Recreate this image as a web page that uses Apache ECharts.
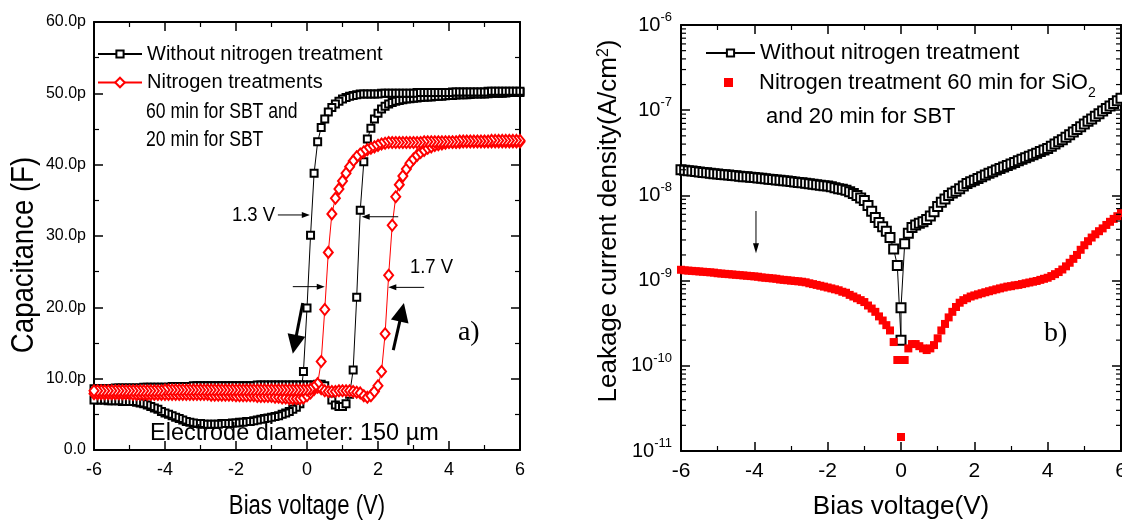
<!DOCTYPE html>
<html>
<head>
<meta charset="utf-8">
<script src="https://cdn.jsdelivr.net/npm/echarts@6/dist/echarts.min.js"></script>
<style>html,body{margin:0;padding:0;background:#fff}#chart{width:1122px;height:521px}</style>
</head>
<body>
<div id="chart"></div>
<script>
// ---------------- DATA ----------------
// Bias voltage sampling (V)
const VOLTS = [
 -6.0,-5.9,-5.8,-5.7,-5.6,-5.5,-5.4,-5.3,-5.2,-5.1,
 -5.0,-4.9,-4.8,-4.7,-4.6,-4.5,-4.4,-4.3,-4.2,-4.1,
 -4.0,-3.9,-3.8,-3.7,-3.6,-3.5,-3.4,-3.3,-3.2,-3.1,
 -3.0,-2.9,-2.8,-2.7,-2.6,-2.5,-2.4,-2.3,-2.2,-2.1,
 -2.0,-1.9,-1.8,-1.7,-1.6,-1.5,-1.4,-1.3,-1.2,-1.1,
 -1.0,-0.9,-0.8,-0.7,-0.6,-0.5,-0.4,-0.3,-0.2,-0.1,
 0.0,0.1,0.2,0.3,0.4,0.5,0.6,0.7,0.8,0.9,
 1.0,1.1,1.2,1.3,1.4,1.5,1.6,1.7,1.8,1.9,
 2.0,2.1,2.2,2.3,2.4,2.5,2.6,2.7,2.8,2.9,
 3.0,3.1,3.2,3.3,3.4,3.5,3.6,3.7,3.8,3.9,
 4.0,4.1,4.2,4.3,4.4,4.5,4.6,4.7,4.8,4.9,
 5.0,5.1,5.2,5.3,5.4,5.5,5.6,5.7,5.8,5.9,6.0
];

// (a) Capacitance in pF, listed for ascending VOLTS
const CAP_NO_N2_UP = [
 8.6,8.6,8.6,8.6,8.6,8.6,8.7,8.7,8.7,8.7,
 8.7,8.7,8.7,8.7,8.8,8.8,8.8,8.8,8.8,8.8,
 8.8,8.8,8.9,8.9,8.9,8.9,8.9,8.9,9.0,9.0,
 9.0,9.0,9.0,9.0,9.0,9.0,9.0,9.0,9.0,9.0,
 9.0,9.0,9.0,9.0,9.0,9.0,9.1,9.1,9.1,9.1,
 9.1,9.1,9.1,9.1,9.1,9.1,9.1,9.1,9.1,9.1,
 9.1,9.1,9.1,9.2,9.2,9.0,8.2,7.0,6.3,6.1,
 6.1,6.5,7.8,11.2,21.4,33.6,40.4,43.6,45.1,46.4,
 47.2,47.8,48.2,48.5,48.7,48.9,49.0,49.1,49.2,49.25,
 49.3,49.35,49.4,49.45,49.5,49.5,49.55,49.6,49.6,49.65,
 49.7,49.7,49.75,49.8,49.8,49.8,49.85,49.9,49.9,49.9,
 49.9,49.95,50.0,50.0,50.0,50.0,50.05,50.1,50.1,50.1,50.1
];
const CAP_NO_N2_DOWN = [
 7.0,7.0,7.0,7.0,6.9,6.9,6.9,6.9,6.8,6.8,
 6.8,6.8,6.7,6.6,6.5,6.3,6.1,5.9,5.7,5.4,
 5.2,5.0,4.8,4.6,4.4,4.2,4.0,3.9,3.8,3.7,
 3.7,3.6,3.6,3.6,3.6,3.6,3.7,3.7,3.7,3.8,
 3.8,3.9,3.9,4.0,4.0,4.1,4.2,4.3,4.4,4.5,
 4.6,4.7,4.8,5.0,5.2,5.4,5.7,6.0,6.5,11.0,
 19.9,30.1,38.8,43.2,45.2,46.4,47.4,48.0,48.5,48.9,
 49.2,49.4,49.6,49.7,49.8,49.9,49.9,49.9,49.9,49.9,
 49.9,50.0,50.0,50.0,50.0,50.0,50.0,50.0,50.0,50.0,
 50.0,50.1,50.1,50.1,50.1,50.1,50.1,50.1,50.1,50.1,
 50.1,50.2,50.2,50.2,50.2,50.2,50.2,50.2,50.2,50.2,
 50.2,50.3,50.3,50.3,50.3,50.3,50.3,50.3,50.3,50.3,50.3
];
const CAP_N2_UP = [
 7.9,7.9,7.9,7.9,7.9,7.9,7.9,7.9,7.9,7.9,
 7.9,7.8,7.8,7.8,7.8,7.8,7.8,7.8,7.8,7.8,
 7.8,7.8,7.8,7.8,7.8,7.8,7.8,7.8,7.8,7.8,
 7.8,7.8,7.8,7.7,7.7,7.7,7.7,7.7,7.7,7.7,
 7.6,7.6,7.6,7.6,7.6,7.6,7.5,7.5,7.5,7.5,
 7.5,7.4,7.4,7.3,7.3,7.2,7.2,7.2,7.2,7.3,
 7.6,8.0,8.5,8.8,8.6,8.3,8.2,8.2,8.2,8.3,
 8.3,8.3,8.3,8.2,8.1,8.0,7.6,7.4,7.6,8.2,
 9.0,11.0,16.3,24.5,31.5,35.5,37.2,38.4,39.4,40.2,
 40.8,41.3,41.7,42.0,42.3,42.5,42.7,42.8,42.9,43.0,
 43.1,43.1,43.1,43.1,43.2,43.2,43.2,43.2,43.2,43.2,
 43.2,43.2,43.2,43.2,43.2,43.2,43.2,43.2,43.2,43.2,43.2
];
const CAP_N2_DOWN = [
 8.3,8.3,8.3,8.3,8.3,8.3,8.3,8.3,8.3,8.3,
 8.3,8.3,8.3,8.3,8.3,8.3,8.3,8.3,8.3,8.3,
 8.4,8.4,8.4,8.4,8.4,8.4,8.4,8.4,8.4,8.4,
 8.4,8.4,8.4,8.4,8.4,8.4,8.4,8.4,8.4,8.4,
 8.4,8.4,8.4,8.4,8.4,8.4,8.4,8.4,8.4,8.4,
 8.4,8.4,8.4,8.4,8.4,8.4,8.4,8.4,8.4,8.4,
 8.4,8.5,8.8,9.3,12.4,19.7,27.7,33.1,35.3,36.6,
 37.7,38.8,39.7,40.5,41.1,41.5,41.8,42.1,42.3,42.5,
 42.7,42.9,43.0,43.1,43.1,43.1,43.1,43.1,43.1,43.1,
 43.1,43.1,43.1,43.2,43.2,43.2,43.2,43.2,43.2,43.2,
 43.2,43.2,43.2,43.3,43.3,43.3,43.3,43.3,43.3,43.3,
 43.3,43.3,43.4,43.4,43.4,43.4,43.4,43.4,43.4,43.4,43.4
];

// (b) Leakage current density in nA/cm^2 (x 1e-9 A/cm^2)
const NANO = 1e-9;
const J_NO_N2_NEG = [ // VOLTS -6.0 .. 0.0
 20.0,19.7,19.5,19.3,19.1,18.8,18.6,18.4,18.2,18.0,
 17.8,17.6,17.5,17.3,17.1,17.0,16.8,16.6,16.5,16.3,
 16.2,16.0,15.9,15.7,15.5,15.4,15.2,15.1,14.9,14.8,
 14.6,14.4,14.2,14.1,13.9,13.7,13.5,13.3,13.2,13.0,
 12.9,12.6,12.3,12.0,11.8,11.5,11.0,10.5,10.0,9.3,
 8.7,7.6,6.5,5.5,4.8,4.3,3.8,3.2,2.35,1.5,0.2
];
const J_NO_N2_POS = [ // VOLTS 0.0 .. 6.0
 0.48,2.7,3.6,4.2,4.5,4.7,4.9,5.2,5.75,6.45,
 7.4,8.3,9.1,10.0,10.7,11.2,12.0,12.9,13.8,14.5,
 15.1,15.8,16.6,17.4,18.2,19.0,19.8,20.7,21.5,22.5,
 23.4,24.4,25.5,26.5,27.7,28.8,30.1,31.3,32.7,34.0,
 35.5,37.7,40.0,42.5,45.0,48.0,51.5,55.5,59.5,64.0,
 69,74,79,85,91,98,105,112,120,129,138
];
const J_N2 = [ // VOLTS -6.0 .. 6.0
 1.34,1.32,1.31,1.30,1.29,1.28,1.27,1.26,1.25,1.24,
 1.22,1.21,1.20,1.19,1.18,1.17,1.16,1.15,1.14,1.13,
 1.12,1.11,1.09,1.08,1.07,1.06,1.05,1.03,1.02,1.01,
 1.00,0.99,0.98,0.97,0.955,0.93,0.91,0.89,0.87,0.85,
 0.83,0.81,0.79,0.77,0.74,0.72,0.68,0.65,0.62,0.59,
 0.56,0.51,0.47,0.43,0.38,0.34,0.30,0.26,0.19,0.117,
 0.0146,0.117,0.16,0.18,0.18,0.17,0.16,0.153,0.16,0.175,
 0.21,0.26,0.31,0.37,0.43,0.49,0.55,0.59,0.62,0.65,
 0.67,0.69,0.71,0.73,0.75,0.77,0.79,0.81,0.83,0.85,
 0.86,0.88,0.89,0.91,0.93,0.95,0.97,0.99,1.02,1.05,
 1.08,1.13,1.19,1.26,1.35,1.47,1.62,1.8,2.0,2.3,
 2.6,2.9,3.2,3.5,3.8,4.1,4.5,4.9,5.3,5.7,6.2
];

// axis ranges / names
const X_TICKS = { min: -6, max: 6, step: 2 };
const CAP_TICKS = { min: 0, max: 60, step: 10 };
const LEAK_DECADES = { min: -11, max: -6 };
const NAME_A_BLACK = 'Without nitrogen treatment';
const NAME_A_RED = 'Nitrogen treatments';
const NAME_B_BLACK = 'Without nitrogen treatment ';
const NAME_B_RED = 'Nitrogen treatment 60 min for SiO2';

// ---------------- BUILD ----------------
const SANS = "'Liberation Sans',Arial,Helvetica,sans-serif";
const SERIF = "'Liberation Serif','Times New Roman',serif";

const loop = (up, down) => up.map((c, i) => [VOLTS[i], c])
  .concat(down.map((c, i) => [VOLTS[i], c]).reverse());
const leakBlack = J_NO_N2_NEG.map((j, i) => [VOLTS[i], j * NANO])
  .concat(J_NO_N2_POS.map((j, i) => [VOLTS[60 + i], j * NANO]));
const leakRed = J_N2.map((j, i) => [VOLTS[i], j * NANO]);

// minor tick values of the log axis (2..9 x 10^n)
const LOG_MINOR = [];
for (let e = LEAK_DECADES.min; e < LEAK_DECADES.max; e++)
  for (let k = 2; k <= 9; k++) LOG_MINOR.push(k * Math.pow(10, e));

const AX_LINE = { show: true, onZero: false, lineStyle: { color: '#000', width: 2 } };
const tick = (len) => ({ show: true, inside: true, length: len, lineStyle: { color: '#000', width: 1.5 } });
const minor = (n, len) => ({ show: true, splitNumber: n, length: len, lineStyle: { color: '#000', width: 1.2 } });

function xAx(grid, pos, label) {
  return {
    gridIndex: grid, type: 'value', position: pos,
    min: X_TICKS.min, max: X_TICKS.max, interval: X_TICKS.step,
    axisLine: AX_LINE, axisTick: tick(9), minorTick: minor(2, 5),
    splitLine: { show: false }, minorSplitLine: { show: false },
    axisLabel: label || { show: false }
  };
}
function capAx(pos, label) {
  return {
    gridIndex: 0, type: 'value', position: pos,
    min: CAP_TICKS.min, max: CAP_TICKS.max, interval: CAP_TICKS.step,
    axisLine: AX_LINE, axisTick: tick(9), minorTick: minor(2, 5),
    splitLine: { show: false }, minorSplitLine: { show: false },
    axisLabel: label || { show: false }
  };
}
function leakAx(pos, label) {
  return {
    gridIndex: 1, type: 'log', logBase: 10, position: pos,
    min: Math.pow(10, LEAK_DECADES.min), max: Math.pow(10, LEAK_DECADES.max),
    axisLine: AX_LINE, axisTick: tick(9), minorTick: { show: false },
    splitLine: { show: false }, minorSplitLine: { show: false },
    axisLabel: label || { show: false }
  };
}

const option = {
  animation: false,
  backgroundColor: '#fff',
  textStyle: { fontFamily: SANS, color: '#000' },
  grid: [
    { left: 94, top: 22, width: 426, height: 428, outerBoundsMode: 'none', containLabel: false },
    { left: 681, top: 25, width: 440, height: 426, outerBoundsMode: 'none', containLabel: false }
  ],
  xAxis: [
    xAx(0, 'bottom', { show: true, color: '#000', fontFamily: SANS, fontSize: 18, margin: 11 }),
    xAx(0, 'top'),
    xAx(1, 'bottom', { show: true, color: '#000', fontFamily: SANS, fontSize: 21, margin: 10 }),
    xAx(1, 'top')
  ],
  yAxis: [
    capAx('left', { show: true, color: '#000', fontFamily: SANS, fontSize: 16, margin: 8,
      formatter: v => v === 0 ? '0.0' : v.toFixed(1) + 'p' }),
    capAx('right'),
    leakAx('left', { show: true, color: '#000', margin: 9,
      formatter: v => '{b|10}{s|' + Math.round(Math.log10(v)) + '}',
      rich: { b: { fontFamily: SANS, fontSize: 20, color: '#000', padding: [4, 0, 4, 0] },
              s: { fontFamily: SANS, fontSize: 13, color: '#000', verticalAlign: 'top' } } }),
    leakAx('right')
  ],
  legend: [
    { data: [NAME_A_BLACK], selectedMode: false, orient: 'vertical', left: 97, top: 40, padding: 0,
      itemWidth: 44, itemHeight: 9, itemGap: 0,
      textStyle: { fontFamily: SANS, fontSize: 20, lineHeight: 28, color: '#000' } },
    { data: [NAME_A_RED], selectedMode: false, orient: 'vertical', left: 97, top: 68.5, padding: 0,
      itemWidth: 44, itemHeight: 12, itemGap: 0,
      textStyle: { fontFamily: SANS, fontSize: 20, lineHeight: 28, color: '#000' } },
    { data: [NAME_B_BLACK], selectedMode: false, orient: 'vertical', left: 705, top: 39, padding: 0,
      itemWidth: 49, itemHeight: 9, itemGap: 0, formatter: n => n.trim(),
      textStyle: { fontFamily: SANS, fontSize: 22, lineHeight: 28, color: '#000' } },
    { data: [NAME_B_RED], selectedMode: false, orient: 'vertical', left: 724, top: 64.5, padding: 0,
      itemWidth: 9, itemHeight: 9, itemGap: 0,
      formatter: () => 'Nitrogen treatment 60 min for SiO{sub|2}',
      textStyle: { fontFamily: SANS, fontSize: 22, lineHeight: 28, color: '#000', padding: [0, 0, 0, 21],
        rich: { sub: { fontFamily: SANS, fontSize: 14, lineHeight: 14, padding: [22, 0, 0, 0], color: '#000' } } } }
  ],
  series: [
    { name: NAME_A_BLACK, type: 'line', xAxisIndex: 0, yAxisIndex: 0, data: loop(CAP_NO_N2_UP, CAP_NO_N2_DOWN),
      symbol: 'emptyRect', symbolSize: 7, showAllSymbol: true,
      lineStyle: { color: '#000', width: 1 }, itemStyle: { color: '#000', borderWidth: 1 }, z: 2 },
    { name: NAME_A_RED, type: 'line', xAxisIndex: 0, yAxisIndex: 0, data: loop(CAP_N2_UP, CAP_N2_DOWN),
      symbol: 'emptyDiamond', symbolSize: [9, 11], showAllSymbol: true,
      lineStyle: { color: '#ff0000', width: 1 }, itemStyle: { color: '#ff0000', borderWidth: 1 }, z: 3 },
    { name: NAME_B_BLACK, type: 'line', xAxisIndex: 2, yAxisIndex: 2, data: leakBlack,
      symbol: 'emptyRect', symbolSize: 9, showAllSymbol: true,
      lineStyle: { color: '#000', width: 1 }, itemStyle: { color: '#000', borderWidth: 1 }, z: 2 },
    { name: NAME_B_RED, type: 'scatter', xAxisIndex: 2, yAxisIndex: 2, data: leakRed,
      symbol: 'rect', symbolSize: 8, itemStyle: { color: '#ff0000', opacity: 1 }, z: 3 },
    { name: 'log minor ticks', type: 'custom', xAxisIndex: 2, yAxisIndex: 2, silent: true, clip: false, z: 5,
      data: LOG_MINOR.map(v => [X_TICKS.min, v]),
      renderItem: (params, api) => {
        const l = api.coord([X_TICKS.min, api.value(1)]);
        const r = api.coord([X_TICKS.max, api.value(1)]);
        const st = { stroke: '#000', lineWidth: 1.2 };
        return { type: 'group', children: [
          { type: 'line', shape: { x1: l[0], y1: l[1], x2: l[0] + 5, y2: l[1] }, style: st },
          { type: 'line', shape: { x1: r[0], y1: r[1], x2: r[0] - 5, y2: r[1] }, style: st }
        ] };
      } }
  ]
};

const chart = echarts.init(document.getElementById('chart'), null, { renderer: 'canvas' });
chart.setOption(option);

// ---------------- ANNOTATIONS (placed in data space) ----------------
const A = p => chart.convertToPixel({ xAxisIndex: 0, yAxisIndex: 0 }, p);
const B = p => chart.convertToPixel({ xAxisIndex: 2, yAxisIndex: 2 }, p);

function arrow(t, h, head, hw, lw) {
  const dx = h[0] - t[0], dy = h[1] - t[1], L = Math.hypot(dx, dy);
  const ux = dx / L, uy = dy / L, nx = -uy, ny = ux;
  const bx = h[0] - ux * head, by = h[1] - uy * head;
  return [
    { type: 'line', z: 50, shape: { x1: t[0], y1: t[1], x2: bx + ux, y2: by + uy },
      style: { stroke: '#000', lineWidth: lw } },
    { type: 'polygon', z: 50, shape: { points: [[h[0], h[1]],
        [bx + nx * hw / 2, by + ny * hw / 2], [bx - nx * hw / 2, by - ny * hw / 2]] },
      style: { fill: '#000' } }
  ];
}
function txt(x, y, text, size, family, align, el, style) {
  return Object.assign({ type: 'text', z: 60, x: x, y: y,
    style: Object.assign({ text: text, fontSize: size, fontFamily: family, fill: '#000',
      align: align || 'left', verticalAlign: 'middle' }, style || {}) }, el || {});
}

const g = [];
// panel (a)
let p = A([-0.9, 32.95]); g.push(txt(p[0], p[1], '1.3 V', 21, SANS, 'right', { scaleX: 0.88 }));
g.push(...arrow(A([-0.82, 32.95]), A([0.08, 32.95]), 8, 6, 1));
g.push(...arrow(A([-0.40, 22.9]), A([0.50, 22.9]), 8, 6, 1));
g.push(...arrow(A([2.57, 32.7]), A([1.54, 32.7]), 8, 6, 1));
g.push(...arrow(A([3.30, 22.8]), A([2.29, 22.8]), 8, 6, 1));
p = A([2.90, 25.65]); g.push(txt(p[0], p[1], '1.7 V', 21, SANS, 'left', { scaleX: 0.88 }));
g.push(...arrow(A([-0.12, 20.6]), A([-0.40, 13.5]), 19, 18, 3));
g.push(...arrow(A([2.43, 14.0]), A([2.73, 20.6]), 19, 18, 3));
p = A([4.25, 16.5]); g.push(txt(p[0], p[1], 'a)', 28, SERIF, 'left'));
p = A([-4.42, 2.25]); g.push(txt(p[0], p[1], 'Electrode diameter: 150 \u00b5m', 23, SANS, 'left', { scaleX: 1.02 }));
g.push(txt(146, 112, '60 min for SBT and', 22, SANS, 'left', { scaleX: 0.8 }));
g.push(txt(146, 140, '20 min for SBT', 22, SANS, 'left', { scaleX: 0.8 }));
// axis titles (a)
g.push(txt(24, 255, 'Capacitance (F)', 31, SANS, 'center', { rotation: Math.PI / 2, scaleX: 0.89 }));
g.push(txt(307, 507, 'Bias voltage (V)', 27, SANS, 'center', { scaleX: 0.82 }));
// panel (b)
g.push(...arrow(B([-3.955, 6.56e-9]), B([-3.955, 2.09e-9]), 10, 6, 1));
p = B([3.90, 2.36e-10]); g.push(txt(p[0], p[1], 'b)', 28, SERIF, 'left'));
g.push(txt(766, 117, 'and 20 min for SBT', 22, SANS, 'left'));
g.push(txt(609, 221, '{t|Leakage current density(A/cm}{s|2}{t|)}', 26, SANS, 'center',
  { rotation: Math.PI / 2 },
  { rich: { t: { fontSize: 26, fontFamily: SANS, fill: '#000' },
            s: { fontSize: 16, fontFamily: SANS, fill: '#000', verticalAlign: 'top', padding: [0, 0, 10, 0] } } }));
g.push(txt(901, 507, 'Bias voltage(V)', 26, SANS, 'center'));

chart.setOption({ graphic: { elements: g } });
</script>
</body>
</html>
